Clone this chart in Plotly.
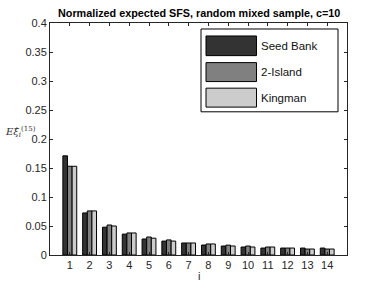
import plotly.graph_objects as go

categories = list(range(1, 15))
seed_bank = [0.171, 0.0725, 0.048, 0.036, 0.0276, 0.024, 0.0207, 0.0172, 0.0155, 0.0138, 0.012, 0.012, 0.012, 0.012]
two_island = [0.153, 0.076, 0.0517, 0.038, 0.031, 0.026, 0.0207, 0.019, 0.017, 0.0155, 0.0138, 0.012, 0.0103, 0.0103]
kingman = [0.153, 0.076, 0.050, 0.038, 0.029, 0.024, 0.0207, 0.019, 0.0155, 0.0138, 0.0138, 0.012, 0.0103, 0.0103]
series_names = ["Seed Bank", "2-Island", "Kingman"]
series_colors = ["#333333", "#808080", "#cccccc"]
x_ticks = list(range(1, 15))
y_ticks = [0, 0.05, 0.1, 0.15, 0.2, 0.25, 0.3, 0.35, 0.4]

W, H = 384, 288
L, R, T, B = 50, 347, 23, 255.5

fig = go.Figure()
for name, vals, col in zip(series_names, [seed_bank, two_island, kingman], series_colors):
    fig.add_trace(go.Bar(x=categories, y=vals, name=name, marker=dict(color=col, line=dict(color="black", width=1)),
                         showlegend=False))

def px(x):
    return (x - L) / (R - L)

def py(y):
    return (B - y) / (B - T)

shapes = []
annotations = []
# legend box
shapes.append(dict(type="rect", xref="paper", yref="paper", x0=px(201), x1=px(338), y0=py(112), y1=py(29),
                   line=dict(color="black", width=1), fillcolor="white", layer="above"))
sw_y = [(36, 55.7), (62.7, 81.7), (88.3, 107.3)]
for (y0, y1), name, col in zip(sw_y, series_names, series_colors):
    shapes.append(dict(type="rect", xref="paper", yref="paper", x0=px(206), x1=px(256.5), y0=py(y1), y1=py(y0),
                       line=dict(color="black", width=1), fillcolor=col, layer="above"))
    annotations.append(dict(xref="paper", yref="paper", x=px(259), y=py((y0 + y1) / 2), text=name, showarrow=False,
                            xanchor="left", yanchor="middle", font=dict(size=11.5, color="#111111")))

annotations.append(dict(xref="paper", yref="paper", x=px(198.5), y=py(13), text="<b>Normalized expected SFS, random mixed sample, c=10</b>",
                        showarrow=False, xanchor="center", yanchor="middle", font=dict(size=10.8, color="black")))
annotations.append(dict(xref="paper", yref="paper", x=px(3), y=py(132),
                        text="<i>E</i><i>ξ̂</i><sub><i>i</i></sub><sup>(15)</sup>",
                        showarrow=False, xanchor="left", yanchor="middle", font=dict(size=10, color="#333333", family="DejaVu Serif")))
annotations.append(dict(xref="paper", yref="paper", x=px(198.5), y=py(277), text="i",
                        showarrow=False, xanchor="center", yanchor="middle", font=dict(size=11, color="#262626")))

fig.update_layout(
    width=W, height=H,
    margin=dict(l=L, r=W - R, t=T, b=H - B, pad=0),
    plot_bgcolor="white", paper_bgcolor="white",
    barmode="group", bargap=0.3, bargroupgap=0,
    font=dict(family="Liberation Sans, Arial, sans-serif", size=11, color="#262626"),
    shapes=shapes, annotations=annotations,
    xaxis=dict(range=[0, 15], tickmode="array", tickvals=x_ticks, ticktext=[str(t) for t in x_ticks],
               showgrid=False, zeroline=False, showline=True, linecolor="#262626", linewidth=1, mirror="ticks",
               ticks="inside", ticklen=3, tickcolor="#262626", tickfont=dict(size=11, color="#262626")),
    yaxis=dict(range=[0, 0.4], tickmode="array", tickvals=y_ticks, ticktext=[f"{t:g}" for t in y_ticks],
               showgrid=False, zeroline=False, showline=True, linecolor="#262626", linewidth=1, mirror="ticks",
               ticks="inside", ticklen=3, tickcolor="#262626", tickfont=dict(size=11, color="#262626")),
)

fig.write_html("out.html", config={"staticPlot": True, "displayModeBar": False},
               post_script="document.body.style.margin='0';document.body.style.padding='0';")
